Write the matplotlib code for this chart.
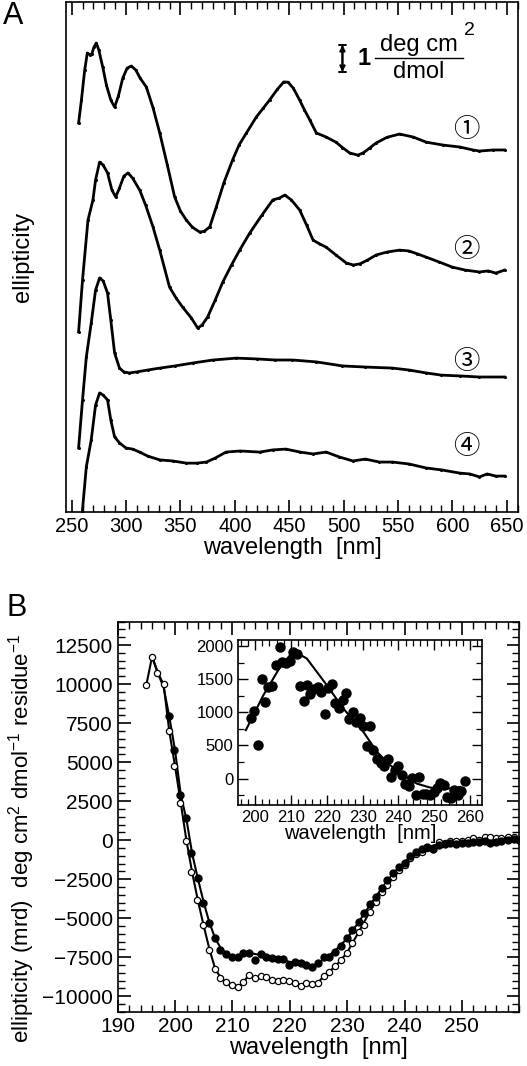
import numpy as np
import matplotlib
matplotlib.use('Agg')
import matplotlib.pyplot as plt
from matplotlib.ticker import MultipleLocator

plt.rcParams['font.family'] = ['Liberation Sans', 'DejaVu Sans', 'Noto Sans CJK JP']
plt.rcParams['mathtext.fontset'] = 'custom'
plt.rcParams['mathtext.rm'] = 'Liberation Sans'

# panel A: stacked CD spectra (units of deg cm2/dmol, offset for display)
wl1 = [256.4, 259, 262, 264.4, 267, 268.5, 270.5, 272.7, 275, 278.6, 282, 286, 289.5, 293, 297, 301,
       304.9, 309, 313, 318.7, 325, 331, 338, 344.7, 350, 355.5, 361, 367.7, 372, 377, 383, 390, 398,
       404, 410.7, 419.8, 426, 432, 439, 445, 449, 453.8, 459.6, 464, 469, 475, 484, 493, 499, 505.6,
       513, 518, 524, 530, 540, 551.6, 564, 576, 591.7, 606.8, 619, 625, 637.7, 648]
ell1 = [14.41, 15.26, 16.37, 17.0, 16.93, 16.96, 17.22, 17.37, 17.11, 16.48, 15.81, 15.26, 15.0, 15.41,
        16.07, 16.44, 16.52, 16.37, 16.07, 15.74, 14.95, 14.04, 12.85, 11.67, 11.15, 10.81, 10.55,
        10.37, 10.4, 10.56, 11.3, 12.2, 13.04, 13.6, 14.04, 14.63, 14.95, 15.26, 15.65, 15.93, 15.92,
        15.7, 15.26, 14.9, 14.52, 14.04, 13.89, 13.7, 13.5, 13.3, 13.22, 13.3, 13.48, 13.67, 13.88,
        14.0, 13.89, 13.7, 13.59, 13.52, 13.41, 13.37, 13.41, 13.41]

wl2 = [256.4, 260, 265, 269.6, 272, 275.7, 279, 283, 287, 290.5, 294, 298, 301.8, 306, 312.5, 318, 324.8,
       331, 340, 346, 352, 360, 366, 370, 375, 382, 389, 397, 404.5, 413.7, 425, 435, 441, 446, 452,
       459.6, 466, 472, 478, 484, 493, 502.6, 509, 515, 522, 530, 540, 551.6, 560, 568, 576, 588, 600,
       612, 625, 633, 640, 648]
ell2 = [6.67, 8.59, 10.81, 11.56, 12.3, 12.96, 12.85, 12.56, 11.93, 11.67, 12.0, 12.44, 12.56, 12.37,
        11.93, 11.37, 10.56, 9.7, 8.33, 7.93, 7.59, 7.19, 6.81, 6.93, 7.22, 7.85, 8.52, 9.15, 9.7, 10.33,
        11.0, 11.56, 11.63, 11.74, 11.56, 11.19, 10.63, 10.07, 9.93, 9.81, 9.52, 9.22, 9.15, 9.19, 9.33,
        9.52, 9.63, 9.7, 9.67, 9.56, 9.44, 9.26, 9.07, 8.96, 8.89, 8.93, 8.85, 8.96]

wl3 = [256.4, 260, 263.5, 268, 272, 275.7, 279, 283, 286, 289.5, 294, 298, 303, 310, 320, 331, 345,
       361.5, 380, 401.4, 420, 437, 453, 475, 499, 520, 545, 560, 576, 590, 607, 625, 648]
ell3 = [2.37, 4.15, 5.74, 7.0, 8.22, 8.67, 8.56, 8.11, 7.11, 5.89, 5.33, 5.19, 5.15, 5.19, 5.26, 5.33,
        5.41, 5.52, 5.63, 5.70, 5.67, 5.63, 5.63, 5.56, 5.41, 5.37, 5.33, 5.26, 5.15, 5.07, 5.04, 5.0, 5.0]

wl4 = [258.5, 259.8, 263.5, 268, 272, 275.7, 279, 283, 286, 289.5, 294, 300, 306, 312.5, 320, 331, 343,
       355.5, 365, 374, 382, 392, 405, 423, 435, 447, 460, 472, 484, 496, 508.6, 520, 533, 545, 560,
       576, 590, 607, 616, 625, 632, 640, 648]
ell4 = [-0.6, 0.0, 1.67, 2.67, 3.96, 4.41, 4.33, 4.15, 3.41, 2.78, 2.56, 2.37, 2.33, 2.22, 2.07, 1.93,
        1.89, 1.81, 1.81, 1.85, 2.0, 2.22, 2.26, 2.22, 2.3, 2.33, 2.22, 2.15, 2.22, 2.04, 1.89, 1.96,
        1.85, 1.85, 1.78, 1.63, 1.56, 1.44, 1.41, 1.3, 1.41, 1.33, 1.33]

curve_labels = ['\u2460', '\u2461', '\u2462', '\u2463']
label_y = [14.15, 9.74, 5.57, 2.42]

# panel B: far-UV CD, filled and open circles with fitted lines
wl_open = [194.9, 196.0, 196.9, 198.0, 198.9, 199.9, 200.9, 201.9, 202.8, 203.8, 204.9, 205.9, 206.9,
           207.9, 208.9, 209.9, 210.9, 211.9, 212.9, 214.0, 214.9, 215.9, 216.9, 217.9, 218.9, 219.9,
           220.9, 221.9, 222.8, 223.8, 224.9, 225.9, 226.9, 227.9, 228.9, 229.9, 230.9, 232.0, 233.0,
           234.0, 235.0, 236.0, 237.0, 238.0, 239.0, 240.0, 241.0, 242.0, 243.0, 244.0, 245.0, 246.0,
           247.0, 248.0, 249.0, 250.0, 251.0, 252.0, 253.0, 254.0, 254.9, 255.9, 256.9, 258.0, 259.0, 260.0]
ell_open = [9955, 11765, 10722, 9994, 6969, 4731, 2385, -64, -2027, -3836, -5435, -7033, -8268, -8843,
            -9124, -9316, -9418, -9124, -8632, -8843, -8741, -8779, -8951, -9060, -8996, -9060, -9162,
            -9335, -9162, -9226, -9162, -8741, -8421, -8056, -7673, -7246, -6606, -5863, -5435, -4584,
            -3945, -3306, -2877, -2347, -1918, -1598, -1170, -914, -748, -531, -595, -147, -211, -64, -45,
            -45, 0, 109, 38, 173, 173, 141, 141, 213, 213, 0]

wl_fill = [198.9, 199.9, 200.9, 201.9, 202.8, 204.0, 204.9, 205.9, 207.0, 207.9, 208.9, 209.9, 210.9,
           211.9, 212.9, 214.0, 214.9, 215.9, 216.9, 217.9, 218.9, 219.9, 220.9, 221.9, 222.8, 223.8,
           224.9, 225.9, 226.9, 227.9, 228.9, 229.9, 230.9, 232.0, 233.0, 234.0, 235.0, 236.0, 237.0,
           238.0, 239.0, 240.0, 241.0, 242.0, 243.0, 244.0, 245.0, 246.0, 247.0, 248.0, 249.0, 250.0,
           251.0, 252.0, 253.0, 254.0, 254.9, 255.9, 256.9, 258.0, 259.0, 260.0]
ell_fill = [7941, 5754, 2877, 1449, -853, -2451, -4006, -5328, -6287, -7033, -7310, -7523, -7460, -7246,
            -7246, -7673, -7289, -7460, -7566, -7630, -7630, -8035, -7780, -7886, -7992, -8141, -7886,
            -7460, -7523, -7140, -6777, -6287, -5754, -5222, -4647, -4092, -3622, -3090, -2558, -2131,
            -1705, -1449, -1023, -746, -597, -426, -597, -320, -256, -213, -256, -170, -213, -107, -107,
            -43, -170, -107, -43, 0, 43, 0]

fit_open_wl = [195, 196, 197, 198, 199, 200, 201, 202, 203, 204, 205, 206, 207, 208, 209, 210, 211,
               212, 212.7, 214, 216, 218, 220, 222, 224, 225, 226, 227, 228, 229, 230, 232, 234, 236,
               238, 240, 242, 244, 246, 248, 250, 255, 260]
fit_open = [9955, 11765, 10722, 9994, 6969, 4731, 2385, -64, -2100, -3900, -5500, -7000, -8250, -8850,
            -9150, -9350, -9400, -9100, -8700, -8800, -8850, -9000, -9100, -9300, -9200, -9100, -8700,
            -8400, -8050, -7650, -7200, -5900, -4550, -3300, -2350, -1600, -950, -500, -250, -100, -50,
            50, 0]

fit_fill_wl = [196, 197, 198, 199, 200, 201, 202, 203, 204, 205, 206, 207, 208, 209, 210, 211, 212, 213,
               214, 216, 218, 220, 222, 223, 224, 225, 226, 227, 228, 230, 232, 234, 236, 238, 240, 242,
               244, 246, 248, 250, 255, 260]
fit_fill = [11765, 10700, 9800, 7900, 5750, 2900, 1300, -900, -2500, -4000, -5300, -6300, -6950, -7300,
            -7450, -7400, -7300, -7250, -7300, -7450, -7650, -7800, -7950, -8100, -8100, -7900, -7600,
            -7350, -7050, -6300, -5250, -4150, -3100, -2150, -1400, -800, -450, -250, -150, -100, -50, 0]

# inset: difference spectrum
wl_ins = [198.8, 199.8, 200.8, 201.9, 202.8, 203.7, 204.7, 205.8, 206.8, 207.6, 208.6, 209.6, 210.5,
          211.6, 212.6, 213.5, 214.5, 215.4, 216.5, 217.5, 218.4, 219.5, 220.4, 221.4, 222.3, 223.4,
          224.4, 225.3, 226.2, 227.3, 228.2, 229.2, 230.1, 232.1, 231.2, 233.0, 234.0, 235.1, 236.0,
          237.0, 238.0, 239.0, 240.0, 240.9, 241.9, 242.9, 243.9, 244.8, 245.8, 246.8, 247.8, 248.8,
          249.8, 250.7, 251.6, 252.7, 253.6, 254.6, 255.5, 256.6, 257.5, 258.5]
ell_ins = [915, 1021, 503, 1500, 1157, 1384, 1394, 1711, 1979, 1761, 1737, 1772, 1913, 1873, 1394, 1168,
           1409, 1273, 1344, 1384, 1308, 976, 1359, 1420, 1133, 1067, 1183, 1284, 891, 997, 855, 906,
           795, 795, 493, 428, 292, 236, 190, 302, 24, 125, 190, 50, -76, -112, 9, -252, 20, -237, -227,
           -242, -202, -136, -60, -101, -278, -293, -177, -252, -192, -41]
fit_ins_wl = [197.4, 202.3, 207, 210.7, 214.4, 220, 224.6, 230.2, 234, 237.7, 241.4, 245.1, 248.8,
              252.6, 257.2]
fit_ins = [730, 1258, 1686, 1923, 1812, 1409, 1057, 704, 402, 201, 50, -76, -136, -162, -127]

fig = plt.figure(figsize=(5.27, 10.66), dpi=100)

axA = fig.add_axes([0.1252, 0.5197, 0.8577, 0.4784])
for w, e in [(wl1, ell1), (wl2, ell2), (wl3, ell3), (wl4, ell4)]:
    axA.plot(w, e, '-', color='black', lw=2.0, marker='o', ms=1.2)
for lab, y in zip(curve_labels, label_y):
    axA.text(613, y, lab, ha='center', va='center', fontsize=19,
             family=['DejaVu Serif', 'Noto Sans CJK JP'])

axA.set_xlim(244.8, 660.4)
axA.set_ylim(0, 18.89)
axA.set_yticks([])
axA.xaxis.set_major_locator(MultipleLocator(50))
axA.xaxis.set_minor_locator(MultipleLocator(10))
axA.tick_params(axis='x', which='both', direction='in', top=True, labelsize=14.5)
axA.tick_params(axis='x', which='major', length=9, width=1.2)
axA.tick_params(axis='x', which='minor', length=5, width=1.0)
axA.set_xlabel('wavelength  [nm]', fontsize=17, labelpad=1)
axA.set_ylabel('ellipticity', fontsize=17)
axA.yaxis.set_label_coords(-0.071, 0.5)

# scale bar
axA.annotate('', xy=(499, 17.3), xytext=(499, 16.3),
             arrowprops=dict(arrowstyle='<|-|>', lw=1.4, color='black', mutation_scale=8,
                             shrinkA=0, shrinkB=0))
axA.annotate('', xy=(499, 17.3), xytext=(499, 16.3),
             arrowprops=dict(arrowstyle='|-|,widthA=0.25,widthB=0.25', lw=1.4, color='black',
                             shrinkA=0, shrinkB=0))
axA.text(518.8, 16.78, '1', fontsize=17, fontweight='bold', ha='center', va='center')
axA.text(569.5, 17.28, 'deg cm', fontsize=17, ha='center', va='center')
axA.text(569.5, 16.3, 'dmol', fontsize=17, ha='center', va='center')
axA.text(616, 17.85, '2', fontsize=14, ha='center', va='center')
axA.plot([529, 610], [16.81, 16.81], color='black', lw=1.0)

axB = fig.add_axes([0.2233, 0.0509, 0.762, 0.3659])
axB.plot(fit_open_wl, fit_open, '-', color='black', lw=1.5)
axB.plot(fit_fill_wl, fit_fill, '-', color='black', lw=1.5)
axB.plot(wl_open, ell_open, 'o', mfc='white', mec='black', ms=4.5, mew=0.9)
axB.plot(wl_fill, ell_fill, 'o', color='black', ms=5)
axB.set_xlim(190, 260)
axB.set_ylim(-11000, 14000)
axB.xaxis.set_major_locator(MultipleLocator(10))
axB.xaxis.set_minor_locator(MultipleLocator(2))
axB.yaxis.set_major_locator(MultipleLocator(2500))
axB.yaxis.set_minor_locator(MultipleLocator(500))
axB.set_xticks([190, 200, 210, 220, 230, 240, 250])
axB.tick_params(which='both', direction='in', top=True, right=True, labelsize=15)
axB.tick_params(which='major', length=9, width=1.2)
axB.tick_params(which='minor', length=5, width=1.0)
axB.set_xlabel('wavelength  [nm]', fontsize=17, labelpad=1)
axB.set_ylabel(r'ellipticity (mrd)  deg cm$^{2}$ dmol$^{-1}$ residue$^{-1}$', fontsize=16)
axB.yaxis.set_label_coords(-0.2, 0.445)

axI = fig.add_axes([0.4522, 0.2448, 0.463, 0.1548])
axI.plot(fit_ins_wl, fit_ins, '-', color='black', lw=1.5)
axI.plot(wl_ins, ell_ins, 'o', color='black', ms=6.5)
axI.set_xlim(195.3, 263.4)
axI.set_ylim(-400, 2090)
axI.xaxis.set_major_locator(MultipleLocator(10))
axI.xaxis.set_minor_locator(MultipleLocator(2))
axI.yaxis.set_major_locator(MultipleLocator(500))
axI.yaxis.set_minor_locator(MultipleLocator(250))
axI.tick_params(which='both', direction='in', top=True, right=True, labelsize=12)
axI.tick_params(which='major', length=7, width=1.0)
axI.tick_params(which='minor', length=4, width=0.9)
axI.set_xlabel('wavelength  [nm]', fontsize=14.5, labelpad=-1)

for ax in (axA, axB, axI):
    for s in ax.spines.values():
        s.set_linewidth(1.2)

fig.text(0.006, 0.999, 'A', fontsize=22, ha='left', va='top')
fig.text(0.012, 0.444, 'B', fontsize=22, ha='left', va='top')

fig.savefig('out.png', dpi=100)
